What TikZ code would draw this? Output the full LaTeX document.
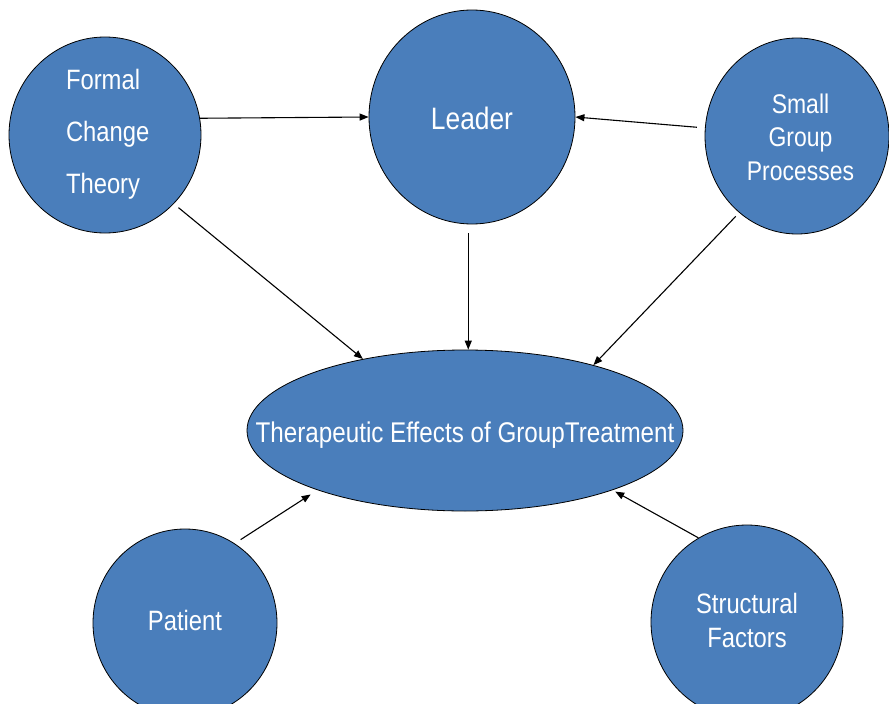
\documentclass[tikz,border=0pt]{standalone}
\usepackage{fontspec}
\setmainfont{Liberation Sans}[FakeStretch=0.85]
\usetikzlibrary{shapes.geometric,arrows.meta}
\definecolor{nodeblue}{RGB}{74,126,187}
% text placed with its first baseline #1 above the node centre, zero size
\newcommand{\ctext}[2]{\smash{\raisebox{#1}{\makebox[0pt][c]{#2}}}}
\begin{document}
\begin{tikzpicture}[x=1pt,y=-1pt,
  bub/.style={ellipse,draw=black,line width=0.8pt,fill=nodeblue,text=white,inner sep=0pt},
  arr/.style={line width=1.1pt,-{Triangle[length=9pt,width=7pt]}}]
\useasboundingbox (0,0) rectangle (889,704);
\node[bub,minimum width=192pt,minimum height=196pt,font=\fontsize{28}{52}\selectfont] (fct) at (105,135)
  {\smash{\raisebox{46pt}{\makebox[0pt][l]{\hspace*{-39pt}\begin{tabular}[t]{@{}l@{}}Formal\\Change\\Theory\end{tabular}}}}};
\node[bub,minimum width=206pt,minimum height=214pt,font=\fontsize{31}{36}\selectfont] (leader) at (472,117)
  {\ctext{-12.5pt}{Leader}};
\node[bub,minimum width=184pt,minimum height=196pt,font=\fontsize{27}{33.5}\selectfont] (sgp) at (797,136)
  {\ctext{23pt}{\hspace*{7pt}\begin{tabular}[t]{@{}c@{}}Small\\Group\\Processes\end{tabular}}};
\node[bub,minimum width=436pt,minimum height=161pt,font=\fontsize{28.5}{34}\selectfont] (eff) at (465,430.5)
  {\ctext{-11.5pt}{Therapeutic Effects of GroupTreatment}};
\node[bub,minimum width=184pt,minimum height=188pt,font=\fontsize{28}{34}\selectfont] (patient) at (185,623)
  {\ctext{-7pt}{Patient}};
\node[bub,minimum width=192pt,minimum height=194pt,font=\fontsize{28}{34}\selectfont] (struct) at (747,622)
  {\ctext{9pt}{\begin{tabular}[t]{@{}c@{}}Structural\\Factors\end{tabular}}};
\draw[arr] (fct.10) -- (leader.180);
\draw[arr,shorten <=8pt] (sgp.175) -- (leader.0);
\draw[arr,shorten <=6pt] (fct.-45) -- (eff.145);
\draw[arr,shorten <=9pt] (leader.-92) -- (leader.-92 |- eff.north);
\draw[arr,shorten <=5pt] (sgp.-127) -- (eff.27);
\draw[arr,shorten <=7pt,shorten >=8pt] (patient.58) -- (eff.202);
\draw[arr,shorten >=3pt] (struct.120) -- (eff.-22);
\end{tikzpicture}
\end{document}
